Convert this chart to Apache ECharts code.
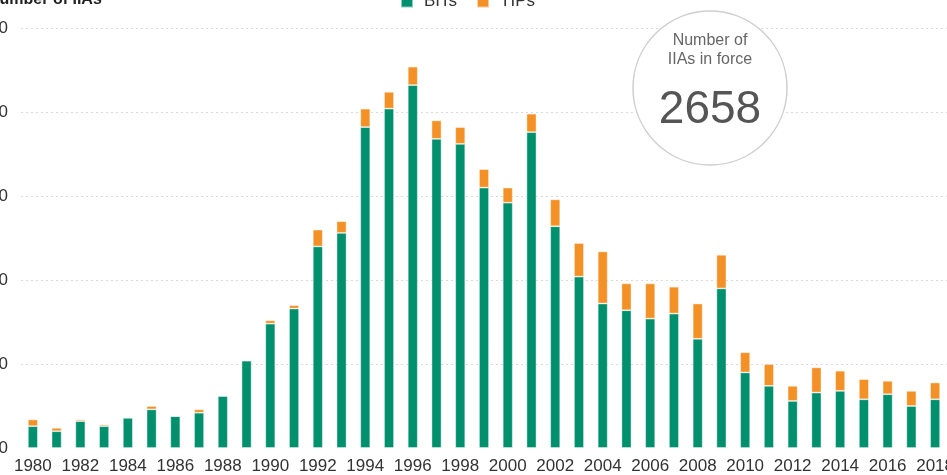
<!DOCTYPE html>
<html>
<head>
<meta charset="utf-8">
<script src="https://cdn.jsdelivr.net/npm/echarts@6/dist/echarts.min.js"></script>
<style>
  html, body { margin: 0; padding: 0; overflow: hidden; width: 947px; height: 475px; background: #fff; }
  #chart { position: absolute; left: -40px; top: -20px; width: 997px; height: 495px; }
</style>
</head>
<body>
<div id="chart"></div>
<script>
// annual IIAs signed
const years = [];
for (let y = 1980; y <= 2018; y++) years.push(String(y));
const bits = [13, 10, 16, 13, 18, 23, 19, 21, 31, 52,
  74, 83, 120, 128, 191, 202, 216, 184, 181, 155,
  146, 188, 132, 102, 86, 82, 77, 80, 65, 95,
  45, 37, 28, 33, 34, 29, 32, 25, 29];
const tips = [4, 2, 1, 1, 0, 2, 0, 2, 0, 0,
  2, 2, 10, 7, 11, 10, 11, 11, 10, 11,
  9, 11, 16, 20, 31, 16, 21, 16, 21, 20,
  12, 13, 9, 15, 12, 12, 8, 9, 10];
const yTicks = [0, 50, 100, 150, 200, 250];
const inForce = '2658';

const font = '"Liberation Sans", Arial, sans-serif';
const chart = echarts.init(document.getElementById('chart'));

const option = {
  animation: false,
  textStyle: { fontFamily: font },
  legend: {
    left: 435, top: 8,
    itemWidth: 12, itemHeight: 12, itemGap: 19,
    icon: 'rect',
    textStyle: { fontSize: 17, color: '#333', fontFamily: font, padding: [0, 0, 0, 6] },
    data: ['BITs', 'TIPs']
  },
  grid: { left: 61, right: 8, top: 48, bottom: 25 },
  xAxis: {
    type: 'category',
    data: years,
    axisLine: { show: false },
    axisTick: { show: false },
    axisLabel: { interval: 1, margin: 10, fontSize: 17, color: '#333', fontFamily: font }
  },
  yAxis: {
    type: 'value',
    min: yTicks[0], max: yTicks[yTicks.length - 1], interval: 50,
    axisLine: { show: false },
    axisTick: { show: false },
    axisLabel: { margin: 13, fontSize: 17, color: '#333', fontFamily: font },
    splitLine: { showMinLine: false, lineStyle: { type: [2, 3], color: '#dadada', width: 1.2 } }
  },
  series: [
    {
      name: 'BITs', type: 'bar', stack: 'iia', data: bits, barWidth: 10,
      itemStyle: { color: '#00906d', borderColor: 'rgba(255,255,255,0.55)', borderWidth: 0.8 }
    },
    {
      name: 'TIPs', type: 'bar', stack: 'iia', data: tips, barWidth: 10,
      itemStyle: { color: '#f39126', borderColor: 'rgba(255,255,255,0.55)', borderWidth: 0.8 }
    }
  ],
  graphic: [
    {
      type: 'text', left: 28, top: 12,
      style: { text: 'Number of IIAs', font: 'bold 16px ' + font, fill: '#222' }
    },
    {
      type: 'circle', z: 10,
      shape: { cx: 750, cy: 108, r: 77 },
      style: { fill: '#fff', stroke: '#cfcfcf', lineWidth: 1.5 }
    },
    {
      type: 'text', z: 11, x: 750, y: 61,
      style: { text: 'Number of', font: '16px ' + font, fill: '#666', align: 'center', verticalAlign: 'middle' }
    },
    {
      type: 'text', z: 11, x: 750, y: 80,
      style: { text: 'IIAs in force', font: '16px ' + font, fill: '#666', align: 'center', verticalAlign: 'middle' }
    },
    {
      type: 'text', z: 11, x: 750, y: 130,
      style: { text: inForce, font: '46px ' + font, fill: '#555', align: 'center', verticalAlign: 'middle' }
    }
  ]
};
chart.setOption(option);
</script>
</body>
</html>
